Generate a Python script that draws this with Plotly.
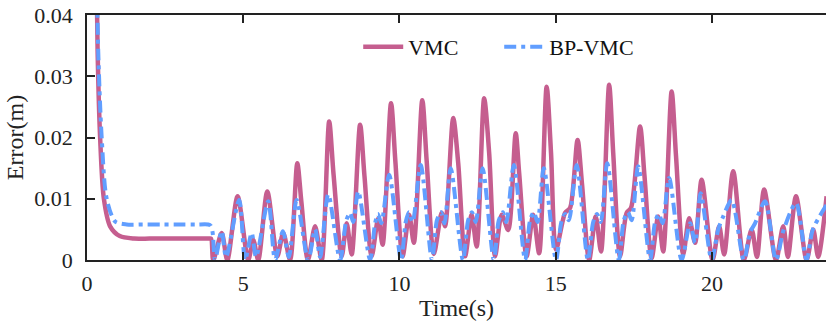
import plotly.graph_objects as go

# ---------------- data ----------------
vmc_t = [0.27, 0.34, 0.42, 0.54, 0.74, 1.05, 1.5, 2.0, 2.5, 3.0, 3.5, 3.9, 3.97,
         4.04, 4.31, 4.49, 4.82, 5.16, 5.32, 5.48, 5.77, 6.09, 6.28, 6.50,
         6.73, 6.86, 7.07, 7.30, 7.51, 7.75, 7.89, 8.15, 8.31, 8.47,
         8.74, 8.88, 9.11, 9.32, 9.46, 9.73, 9.87, 10.10, 10.31, 10.46,
         10.73, 10.87, 11.10, 11.35, 11.46, 11.72, 11.88, 12.10, 12.31, 12.47,
         12.71, 12.87, 13.06, 13.27, 13.48, 13.72, 13.83, 14.07, 14.28, 14.47,
         14.71, 14.85, 15.01, 15.30, 15.46, 15.70, 15.84, 16.07, 16.28, 16.45,
         16.71, 16.84, 17.06, 17.27, 17.41, 17.70, 17.84, 18.07, 18.28, 18.44,
         18.71, 18.85, 19.08, 19.27, 19.46, 19.67, 20.02, 20.23, 20.39,
         20.68, 21.02, 21.27, 21.44, 21.67, 22.05, 22.28, 22.43,
         22.69, 23.03, 23.24, 23.40, 23.67]
vmc_v = [0.060, 0.034, 0.020, 0.010, 0.0055, 0.0039, 0.0035, 0.0035, 0.0035, 0.0035, 0.0035, 0.0035, 0.0035,
         0.0, 0.0044, 0.0, 0.0104, 0.0, 0.0033, 0.0, 0.0112, 0.0006, 0.0044, 0.0,
         0.0158, 0.0095, 0.0, 0.0055, 0.0, 0.0226, 0.0140, 0.0006, 0.0060, 0.0009,
         0.0221, 0.0137, 0.0006, 0.0068, 0.0025, 0.0256, 0.0160, 0.0006, 0.0074, 0.0028,
         0.0261, 0.0162, 0.0010, 0.0077, 0.0055, 0.0232, 0.0158, 0.0006, 0.0074, 0.0022,
         0.0264, 0.0175, 0.0006, 0.0074, 0.0049, 0.0207, 0.0142, 0.0006, 0.0074, 0.0011,
         0.0283, 0.0175, 0.0017, 0.0077, 0.0085, 0.0196, 0.0125, 0.0, 0.0071, 0.0014,
         0.0286, 0.0175, 0.0006, 0.0077, 0.0085, 0.0218, 0.0138, 0.0003, 0.0071, 0.0014,
         0.0275, 0.0170, 0.0009, 0.0068, 0.0028, 0.0131, 0.0, 0.0055, 0.0009,
         0.0145, 0.0, 0.0050, 0.0005, 0.0115, 0.0, 0.0055, 0.0005,
         0.0104, 0.0, 0.0050, 0.0005, 0.0104]

bp_t = [0.27, 0.36, 0.47, 0.63, 0.90, 1.27, 1.8, 2.4, 3.0, 3.5, 3.88, 3.96, 4.02,
        4.10, 4.31, 4.45, 4.87, 5.06, 5.27, 5.41, 5.80, 6.02, 6.27, 6.46,
        6.71, 7.08, 7.30, 7.46, 7.72, 8.10, 8.30, 8.42, 8.52, 8.68,
        9.06, 9.22, 9.31, 9.42, 9.67, 10.05, 10.20, 10.30, 10.42, 10.68,
        11.04, 11.20, 11.33, 11.44, 11.64, 12.03, 12.20, 12.32, 12.44, 12.66,
        13.02, 13.18, 13.31, 13.42, 13.66, 14.02, 14.18, 14.30, 14.42, 14.62,
        15.01, 15.18, 15.30, 15.42, 15.67, 16.03, 16.20, 16.32, 16.44, 16.65,
        17.02, 17.18, 17.31, 17.43, 17.64, 18.02, 18.18, 18.30, 18.42, 18.63,
        19.03, 19.30, 19.46, 19.64, 19.99, 20.20, 20.36, 20.63,
        21.02, 21.22, 21.38, 21.70, 22.05, 22.30, 22.69, 23.03, 23.23, 23.67]
bp_v = [0.060, 0.034, 0.020, 0.010, 0.0063, 0.0058, 0.0058, 0.0058, 0.0058, 0.0058, 0.0058, 0.0056, 0.0045,
        0.0, 0.0047, 0.0005, 0.0098, 0.0, 0.0044, 0.0005, 0.0096, 0.0, 0.0047, 0.0005,
        0.0098, 0.0, 0.0050, 0.0005, 0.0107, 0.0, 0.0065, 0.0077, 0.0062, 0.0112,
        0.0, 0.0060, 0.0075, 0.0060, 0.0139, 0.0, 0.0062, 0.0078, 0.0062, 0.0155,
        0.0, 0.0065, 0.0078, 0.0060, 0.0150, 0.0, 0.0065, 0.0078, 0.0062, 0.0150,
        0.0, 0.0065, 0.0078, 0.0062, 0.0155, 0.0, 0.0065, 0.0078, 0.0062, 0.0150,
        0.0, 0.0062, 0.0075, 0.0065, 0.0155, 0.0, 0.0062, 0.0075, 0.0062, 0.0158,
        0.0, 0.0065, 0.0078, 0.0065, 0.0153, 0.0, 0.0062, 0.0075, 0.0060, 0.0134,
        0.0, 0.0060, 0.0028, 0.0109, 0.0, 0.0050, 0.0071, 0.0098,
        0.0, 0.0045, 0.0060, 0.0096, 0.0, 0.0050, 0.0093, 0.0, 0.0050, 0.0090]

x_ticks = [0, 5, 10, 15, 20]
y_ticks = [0, 0.01, 0.02, 0.03, 0.04]
y_tick_labels = ["0", "0.01", "0.02", "0.03", "0.04"]

# ---------------- figure ----------------
PINK = "#C55E8F"
BLUE = "#619EFF"
FONT = "Liberation Serif"
INK = "#222222"

fig = go.Figure()
fig.add_trace(go.Scatter(x=vmc_t, y=vmc_v, name="VMC", mode="lines",
                         line=dict(color=PINK, width=4.5, shape="spline", smoothing=0.8)))
fig.add_trace(go.Scatter(x=bp_t, y=bp_v, name="BP-VMC", mode="lines",
                         line=dict(color=BLUE, width=4, shape="spline", smoothing=0.8,
                                   dash="12px,5px,4px,5px")))

axis_common = dict(showline=True, linecolor=INK, linewidth=1.6,
                   ticks="inside", ticklen=8, tickwidth=1.6, tickcolor=INK,
                   showgrid=False, zeroline=False, automargin=False,
                   tickfont=dict(family=FONT, size=22, color=INK))

fig.update_xaxes(range=[0, 23.65], tickvals=x_ticks, mirror="ticks", ticklabelstandoff=3,
                 title=dict(text="Time(s)", font=dict(family=FONT, size=24, color=INK),
                            standoff=4),
                 **axis_common)
fig.update_yaxes(range=[0, 0.04], tickvals=y_ticks, ticktext=y_tick_labels, mirror=False,
                 ticklabelstandoff=8,
                 title=dict(text="Error(m)", font=dict(family=FONT, size=24, color=INK),
                            standoff=4),
                 **axis_common)

fig.update_layout(
    width=827, height=328,
    margin=dict(l=87, r=1, t=15, b=68),
    plot_bgcolor="white", paper_bgcolor="white",
    font=dict(family=FONT, size=22, color=INK),
    legend=dict(orientation="h", x=0.367, y=0.87, xanchor="left", yanchor="middle",
                bgcolor="rgba(0,0,0,0)", font=dict(family=FONT, size=22, color="#111111"),
                itemwidth=40, entrywidth=86, entrywidthmode="pixels"),
    showlegend=True,
)

fig.write_html("out.html", config={"displayModeBar": False},
               post_script="document.body.style.margin='0';document.body.style.overflow='hidden';")
